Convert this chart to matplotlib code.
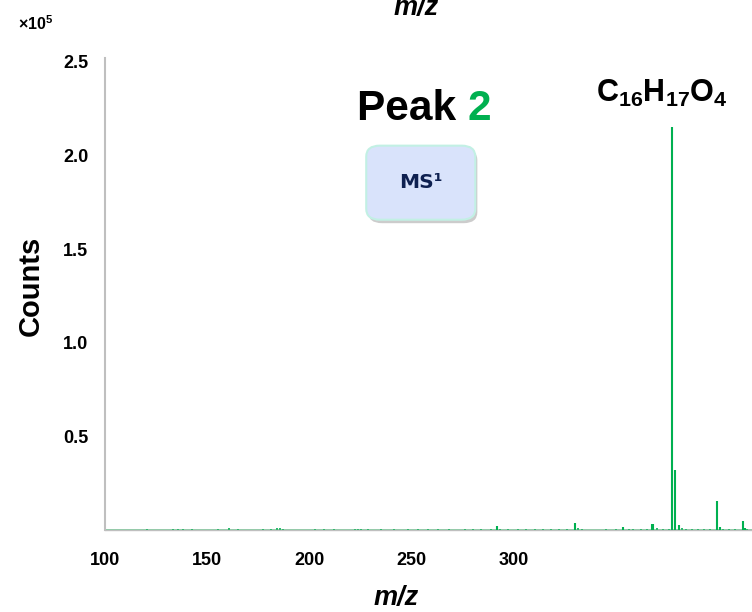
import numpy as np
import matplotlib.pyplot as plt
from matplotlib.patches import FancyBboxPatch
import matplotlib.patheffects as pe

plt.rcParams['font.family'] = ['Liberation Sans', 'DejaVu Sans']
plt.rcParams['mathtext.fontset'] = 'custom'
plt.rcParams['mathtext.bf'] = 'Liberation Sans:bold'
plt.rcParams['mathtext.rm'] = 'Liberation Sans:bold'

# ── spectrum (m/z, counts in units of 1e5) ──────────────────────────────
mz_major = [291.4, 329.7, 353.4, 367.5, 368.0, 377.4, 378.5, 380.5,
            399.4, 400.8, 412.0, 413.0]
int_major = [0.020, 0.040, 0.018, 0.030, 0.030, 2.15, 0.32, 0.027,
             0.156, 0.015, 0.047, 0.012]

mz_noise = [120.6, 133.2, 135.5, 137.9, 142.7, 155.3, 160.4, 165.0, 177.4,
            181.4, 183.9, 185.5, 187.1, 202.7, 207.2, 212.0, 222.0, 223.5,
            225.0, 228.5, 234.8, 241.4, 248.0, 253.0, 258.0, 263.0, 268.0,
            275.8, 280.0, 284.0, 288.5, 293.0, 297.0, 302.0, 306.0, 310.0,
            314.0, 318.0, 322.0, 326.0, 331.0, 333.0, 345.0, 350.0, 356.0,
            358.0, 362.0, 365.0, 370.0, 373.0, 375.5, 382.0, 384.0, 387.0,
            390.0, 393.0, 396.0, 402.0, 405.0, 408.0, 414.0]
int_noise = [0.005, 0.004, 0.004, 0.005, 0.005, 0.004, 0.012, 0.005, 0.004,
             0.005, 0.008, 0.010, 0.006, 0.005, 0.005, 0.005, 0.006, 0.006,
             0.005, 0.006, 0.004, 0.004, 0.005, 0.004, 0.005, 0.004, 0.005,
             0.005, 0.004, 0.004, 0.005, 0.006, 0.004, 0.005, 0.004, 0.005,
             0.004, 0.004, 0.005, 0.005, 0.008, 0.004, 0.004, 0.006, 0.004,
             0.004, 0.005, 0.006, 0.008, 0.004, 0.005, 0.008, 0.006, 0.004,
             0.005, 0.004, 0.004, 0.005, 0.004, 0.005, 0.006]

x_ticks = [100, 150, 200, 250, 300]
y_ticks = [0.5, 1.0, 1.5, 2.0, 2.5]

GREEN = '#00b050'

fig = plt.figure(figsize=(7.52, 6.12), dpi=100)
ax = fig.add_axes([0.1396, 0.134, 0.8604, 0.771])

ax.axhline(0, color='#7fc79a', lw=2.0, zorder=1)
ax.vlines(mz_noise, 0, int_noise, color=GREEN, lw=1.2, zorder=2)
ax.vlines(mz_major, 0, int_major, color=GREEN, lw=1.5, zorder=3)

ax.set_xlim(103.2, 416.3)
ax.set_ylim(0, 2.52)
ax.set_xticks(x_ticks)
ax.set_xticklabels([str(v) for v in x_ticks], fontsize=13, fontweight='bold')
ax.set_yticks(y_ticks)
ax.set_yticklabels([f'{v:.1f}' for v in y_ticks], fontsize=13, fontweight='bold')
ax.tick_params(length=0, pad=12)
ax.tick_params(axis='x', pad=16)

for s in ['top', 'right']:
    ax.spines[s].set_visible(False)
ax.spines['left'].set_color('#bfbfbf')
ax.spines['left'].set_linewidth(1.5)
ax.spines['bottom'].set_color('#bfbfbf')
ax.spines['bottom'].set_linewidth(1.0)

# axis titles placed directly
fig.text(0.041, 0.533, 'Counts', fontsize=21, fontweight='bold', rotation=90,
         ha='center', va='center')
fig.text(0.527, 0.0115, 'm/z', fontsize=19.5, fontweight='bold', style='italic',
         ha='center', va='baseline')
fig.text(0.553, 0.975, 'm/z', fontsize=19.5, fontweight='bold', style='italic',
         ha='center', va='baseline')
fig.text(0.024, 0.951, r'×10$^{5}$', fontsize=11.5, fontweight='bold', va='baseline')

# Peak 2 title
fig.text(0.475, 0.804, 'Peak ', fontsize=30.5, fontweight='bold', ha='left', va='baseline')
fig.text(0.622, 0.804, '2', fontsize=30.5, fontweight='bold', color=GREEN, ha='left', va='baseline')

fig.text(0.880, 0.833, r'$\mathbf{C_{16}H_{17}O_{4}}$', fontsize=22, ha='center', va='baseline')

# MS1 box
box = FancyBboxPatch((0.487, 0.641), 0.145, 0.121, transform=fig.transFigure,
                     boxstyle='round,pad=0,rounding_size=0.018',
                     facecolor='#d9e3fb', edgecolor='#c2f0e4', lw=1.5,
                     path_effects=[pe.withSimplePatchShadow(offset=(1.5, -2.5),
                                                            shadow_rgbFace='#9a9a9a', alpha=0.5)])
fig.add_artist(box)
fig.text(0.560, 0.702, 'MS¹', fontsize=14.5, fontweight='bold', color='#0e2050',
         family=['DejaVu Sans'], ha='center', va='center')

fig.savefig('out.png', dpi=100)
